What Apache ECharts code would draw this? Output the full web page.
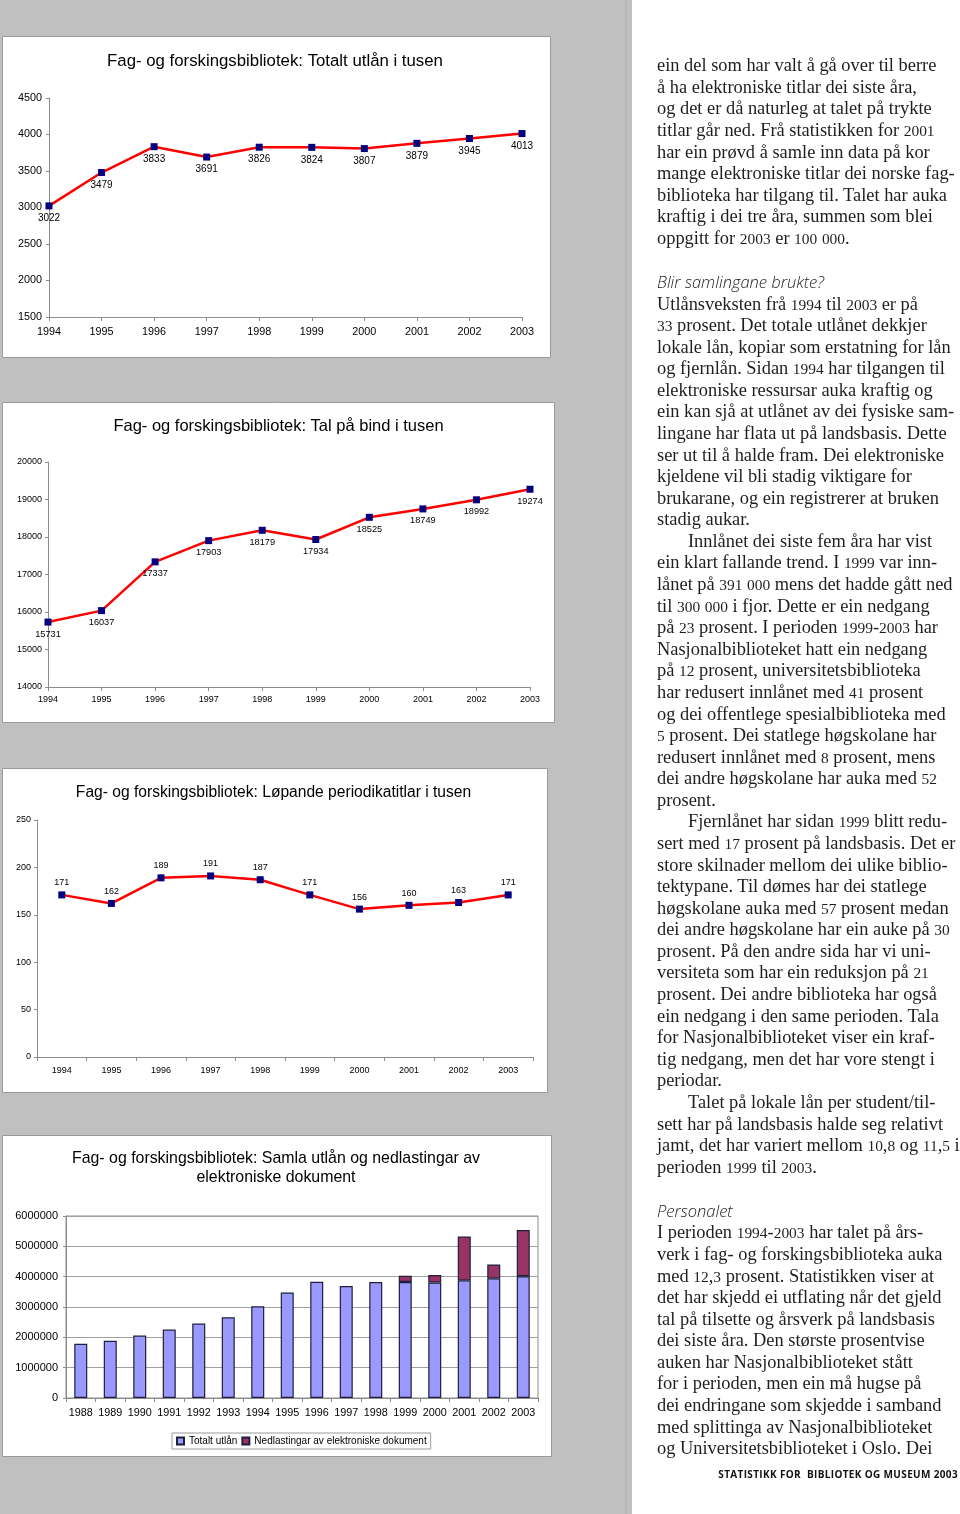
<!DOCTYPE html>
<html>
<head>
<meta charset="utf-8">
<script src="https://cdn.jsdelivr.net/npm/echarts@6/dist/echarts.min.js"></script>
<style>
html,body{margin:0;padding:0;background:#fff;}
#wrap{position:relative;width:960px;height:1514px;overflow:hidden;}
#chart{position:absolute;left:0;top:0;width:960px;height:1514px;}
#text{position:absolute;left:657px;top:55.2px;font-family:"Liberation Serif",serif;font-size:18.4px;line-height:21.58px;color:#1e1e1e;white-space:pre;}
#text .h{font-family:"Open Sans",sans-serif;font-style:italic;font-weight:300;font-size:16.5px;color:#222;}
#text .in{display:inline-block;width:31px;}
#text .num{font-size:0.84em;}
#foot{position:absolute;right:2px;top:1467px;font-family:"Open Sans",sans-serif;font-weight:700;font-size:10px;letter-spacing:0.35px;color:#111;white-space:pre;}
</style>
</head>
<body>
<div id="wrap">
<div id="chart"></div>
<div id="text">ein del som har valt å gå over til berre
å ha elektroniske titlar dei siste åra,
og det er då naturleg at talet på trykte
titlar går ned. Frå statistikken for 2001
har ein prøvd å samle inn data på kor
mange elektroniske titlar dei norske fag-
biblioteka har tilgang til. Talet har auka
kraftig i dei tre åra, summen som blei
oppgitt for 2003 er 100 000.

<span class="h">Blir samlingane brukte?</span>
Utlånsveksten frå 1994 til 2003 er på
33 prosent. Det totale utlånet dekkjer
lokale lån, kopiar som erstatning for lån
og fjernlån. Sidan 1994 har tilgangen til
elektroniske ressursar auka kraftig og
ein kan sjå at utlånet av dei fysiske sam-
lingane har flata ut på landsbasis. Dette
ser ut til å halde fram. Dei elektroniske
kjeldene vil bli stadig viktigare for
brukarane, og ein registrerer at bruken
stadig aukar.
<span class="in"></span>Innlånet dei siste fem åra har vist
ein klart fallande trend. I 1999 var inn-
lånet på 391 000 mens det hadde gått ned
til 300 000 i fjor. Dette er ein nedgang
på 23 prosent. I perioden 1999-2003 har
Nasjonalbiblioteket hatt ein nedgang
på 12 prosent, universitetsbiblioteka
har redusert innlånet med 41 prosent
og dei offentlege spesialbiblioteka med
5 prosent. Dei statlege høgskolane har
redusert innlånet med 8 prosent, mens
dei andre høgskolane har auka med 52
prosent.
<span class="in"></span>Fjernlånet har sidan 1999 blitt redu-
sert med 17 prosent på landsbasis. Det er
store skilnader mellom dei ulike biblio-
tektypane. Til dømes har dei statlege
høgskolane auka med 57 prosent medan
dei andre høgskolane har ein auke på 30
prosent. På den andre sida har vi uni-
versiteta som har ein reduksjon på 21
prosent. Dei andre biblioteka har også
ein nedgang i den same perioden. Tala
for Nasjonalbiblioteket viser ein kraf-
tig nedgang, men det har vore stengt i
periodar.
<span class="in"></span>Talet på lokale lån per student/til-
sett har på landsbasis halde seg relativt
jamt, det har variert mellom 10,8 og 11,5 i
perioden 1999 til 2003.

<span class="h">Personalet</span>
I perioden 1994-2003 har talet på års-
verk i fag- og forskingsbiblioteka auka
med 12,3 prosent. Statistikken viser at
det har skjedd ei utflating når det gjeld
tal på tilsette og årsverk på landsbasis
dei siste åra. Den største prosentvise
auken har Nasjonalbiblioteket stått
for i perioden, men ein må hugse på
dei endringane som skjedde i samband
med splittinga av Nasjonalbiblioteket
og Universitetsbiblioteket i Oslo. Dei</div>
<div id="foot">STATISTIKK FOR  BIBLIOTEK OG MUSEUM 2003</div>
</div>
<script>
// ---- data ----
const years94 = ['1994','1995','1996','1997','1998','1999','2000','2001','2002','2003'];
const utlanTusen = [3022,3479,3833,3691,3826,3824,3807,3879,3945,4013];
const bindTusen = [15731,16037,17337,17903,18179,17934,18525,18749,18992,19274];
const periodikaTusen = [171,162,189,191,187,171,156,160,163,171];
const years88 = ['1988','1989','1990','1991','1992','1993','1994','1995','1996','1997','1998','1999','2000','2001','2002','2003'];
const totaltUtlan = [1785000,1884000,2060000,2256000,2453000,2660000,3022000,3479000,3833000,3691000,3826000,3824000,3807000,3879000,3945000,4013000];
const nedlastingar = [null,null,null,null,null,null,null,null,null,null,null,205000,244000,1445000,457000,1527000];
const yTicks1 = {min:1500,max:4500,interval:500};
const yTicks2 = {min:14000,max:20000,interval:1000};
const yTicks3 = {min:0,max:250,interval:50};
const yTicks4 = {min:0,max:6000000,interval:1000000};
const titles = [
  'Fag- og forskingsbibliotek: Totalt utlån i tusen',
  'Fag- og forskingsbibliotek: Tal på bind i tusen',
  'Fag- og forskingsbibliotek: Løpande periodikatitlar i tusen',
  'Fag- og forskingsbibliotek: Samla utlån og nedlastingar av\nelektroniske dokument'
];
const seriesNames = ['Totalt utlån','Nedlastingar av elektroniske dokument'];

// body text: render digit runs slightly smaller (old-style figure look)
(function(){
  const root = document.getElementById('text');
  const walker = document.createTreeWalker(root, NodeFilter.SHOW_TEXT);
  const nodes = [];
  while (walker.nextNode()) nodes.push(walker.currentNode);
  nodes.forEach(n => {
    if (!/\d/.test(n.nodeValue) || n.parentNode.classList.contains('h')) return;
    const frag = document.createDocumentFragment();
    n.nodeValue.split(/(\d+)/).forEach(part => {
      if (!part) return;
      if (/^\d+$/.test(part)) { const s = document.createElement('span'); s.className = 'num'; s.textContent = part; frag.appendChild(s); }
      else frag.appendChild(document.createTextNode(part));
    });
    n.parentNode.replaceChild(frag, n);
  });
})();

// ---- styling ----
const FF = '"Liberation Sans", Arial, sans-serif';
const AX = '#8c8c8c';
const chart = echarts.init(document.getElementById('chart'), null, {renderer:'canvas'});

function box(x,y,w,h){
  return {type:'rect', z:-5, shape:{x:x+0.5,y:y+0.5,width:w,height:h},
    style:{fill:'#ffffff', stroke:'#9a9a9a', lineWidth:1}, silent:true};
}
function ttl(text,x,y,size){
  return {type:'text', z:5, x:x, y:y, silent:true,
    style:{text:text, font:size+'px '+FF, fill:'#000', align:'center', verticalAlign:'middle',
      textAlign:'center', textVerticalAlign:'middle', lineHeight:19}};
}
function catAxis(gi, data, gap, fs, margin){
  return {type:'category', gridIndex:gi, data:data, boundaryGap:gap,
    axisLine:{show:true, lineStyle:{color:AX, width:1}},
    axisTick:{show:true, length:4, lineStyle:{color:AX}, alignWithLabel:!gap},
    axisLabel:{show:true, color:'#000', fontFamily:FF, fontSize:fs, margin:margin, interval:0},
    splitLine:{show:false}};
}
function valAxis(gi, t, fs, margin, split){
  return {type:'value', gridIndex:gi, min:t.min, max:t.max, interval:t.interval,
    axisLine:{show:true, lineStyle:{color:AX, width:1}},
    axisTick:{show:true, length:3, lineStyle:{color:AX}},
    axisLabel:{show:true, color:'#000', fontFamily:FF, fontSize:fs, margin:margin, formatter:v=>String(v)},
    splitLine:{show:!!split, lineStyle:{color:'#a0a0a0', width:1}}};
}
function lineSeries(gi, data, pos, fs){
  return {type:'line', xAxisIndex:gi, yAxisIndex:gi, data:data, symbol:'rect', symbolSize:7,
    itemStyle:{color:'#000080'}, lineStyle:{color:'#ff0000', width:2.5},
    label:{show:true, position:pos, distance:4, fontSize:fs, fontFamily:FF, color:'#000', formatter:p=>String(p.value)},
    emphasis:{disabled:true}, animation:false, z:3};
}

const option = {
  animation:false,
  backgroundColor:'transparent',
  graphic:[
    {type:'rect', z:-10, silent:true, shape:{x:0,y:0,width:632,height:1514}, style:{fill:'#c0c0c0'}},
    {type:'rect', z:-9, silent:true, shape:{x:625,y:0,width:2,height:1514}, style:{fill:'#b6b6b6'}},
    box(2,36,548,321),
    box(2,402,552,320),
    box(2,768,545,324),
    box(2,1135,549,321),
    ttl(titles[0],275,61,16.8),
    ttl(titles[1],278.5,426,16.5),
    ttl(titles[2],273.5,793,15.6),
    ttl(titles[3],276,1168.5,15.9)
  ],
  grid:[
    {left:49, top:98, width:473, height:219},
    {left:48, top:462, width:482, height:225},
    {left:37, top:820, width:496, height:237},
    {left:66, top:1216, width:472, height:182, show:true, borderColor:'#8c8c8c', borderWidth:1, backgroundColor:'transparent'}
  ],
  xAxis:[
    catAxis(0, years94, false, 10.8, 10),
    catAxis(1, years94, false, 9, 8.5),
    catAxis(2, years94, true, 9, 9.5),
    catAxis(3, years88, true, 10.8, 10)
  ],
  yAxis:[
    valAxis(0, yTicks1, 10.8, 7, false),
    valAxis(1, yTicks2, 9, 6, false),
    valAxis(2, yTicks3, 9, 6, false),
    valAxis(3, yTicks4, 11, 8, true)
  ],
  legend:{
    show:true, left:172, top:1433, orient:'horizontal',
    data:seriesNames, icon:'rect', itemWidth:7, itemHeight:7, itemGap:4,
    padding:[3,4], borderColor:'#9a9a9a', borderWidth:1,
    textStyle:{fontFamily:FF, fontSize:10, color:'#000'},
    selectedMode:false
  },
  series:[
    lineSeries(0, utlanTusen, 'bottom', 10),
    lineSeries(1, bindTusen, 'bottom', 9.2),
    lineSeries(2, periodikaTusen, 'top', 9),
    {type:'bar', name:seriesNames[0], xAxisIndex:3, yAxisIndex:3, stack:'tot', data:totaltUtlan, barWidth:13,
      itemStyle:{color:'#9999ff', borderColor:'#1f1f3a', borderWidth:1.2}, emphasis:{disabled:true}, animation:false},
    {type:'bar', name:seriesNames[1], xAxisIndex:3, yAxisIndex:3, stack:'tot', data:nedlastingar, barWidth:13,
      itemStyle:{color:'#993366', borderColor:'#1f1f3a', borderWidth:1.2}, emphasis:{disabled:true}, animation:false}
  ]
};
chart.setOption(option);
</script>
</body>
</html>
